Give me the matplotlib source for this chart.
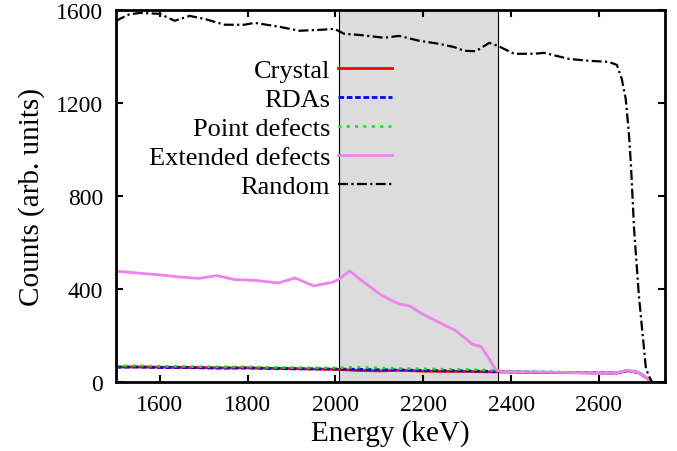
import matplotlib
matplotlib.use("Agg")
import matplotlib.pyplot as plt

plt.rcParams['font.family'] = ['Liberation Serif', 'DejaVu Serif']

# energies (keV) for the low-yield aligned spectra
e_low = [1500, 1550, 1600, 1650, 1700, 1750, 1800, 1850, 1900, 1950, 2000, 2050,
         2100, 2150, 2200, 2250, 2300, 2350, 2370, 2400, 2450, 2500, 2550, 2600,
         2640, 2665, 2690, 2710, 2722]
crystal = [64, 64, 63, 62, 61, 60, 60, 58, 57, 55, 54, 49, 47, 50, 46, 45, 45, 43,
           43, 42, 41, 40, 39, 38, 38, 48, 40, 15, 0]
rdas = [63, 64, 62, 62, 60, 59, 60, 58, 56, 56, 55, 54, 52, 51, 49, 48, 47, 45,
        44, 43, 42, 41, 40, 39, 38, 48, 40, 15, 0]
point_def = [68, 69, 67, 66, 65, 64, 64, 62, 61, 60, 60, 63, 60, 57, 56, 54, 53, 50,
             48, 45, 43, 42, 41, 40, 39, 49, 40, 15, 0]

e_ext = [1500, 1550, 1600, 1650, 1690, 1730, 1770, 1820, 1870, 1908, 1950, 1993,
         2009, 2032, 2070, 2107, 2145, 2168, 2198, 2243, 2275, 2311, 2332, 2350,
         2366, 2380, 2450, 2500, 2600, 2640, 2665, 2690, 2710, 2722]
ext_def = [476, 468, 460, 450, 445, 457, 440, 436, 425, 447, 413, 428, 443, 477,
           421, 370, 335, 327, 292, 249, 219, 163, 151, 99, 50, 43, 42, 41, 38, 38,
           50, 40, 15, 0]

e_rand = [1500, 1509, 1530, 1555, 1600, 1634, 1668, 1702, 1748, 1793, 1816, 1873,
          1918, 1964, 1998, 2020, 2055, 2111, 2145, 2191, 2236, 2270, 2293, 2320,
          2350, 2370, 2407, 2452, 2475, 2532, 2577, 2623, 2641, 2652, 2661, 2668,
          2673, 2680, 2691, 2707, 2720]
random_ = [1550, 1561, 1580, 1587, 1583, 1553, 1574, 1561, 1536, 1536, 1544, 1527,
           1510, 1514, 1518, 1497, 1492, 1480, 1488, 1467, 1454, 1440, 1424, 1422,
           1458, 1445, 1411, 1411, 1415, 1389, 1381, 1376, 1363, 1303, 1217, 1075,
           929, 658, 370, 56, 0]

shade = (2009, 2370)

fig = plt.figure(figsize=(6.77, 4.52), dpi=100)
ax = fig.add_axes([0.171, 0.153, 0.811, 0.823])

ax.axvspan(shade[0], shade[1], facecolor='#dcdcdc', edgecolor='black', lw=0.8, zorder=0)

ax.plot(e_low, crystal, color='red', lw=2, label='Crystal')
ax.plot(e_low, rdas, color='blue', lw=2, ls=(0, (2, 1)), label='RDAs')
ax.plot(e_low, point_def, color='#00ee00', lw=2, ls=(0, (1, 2)), label='Point defects')
ax.plot(e_ext, ext_def, color='violet', lw=2, label='Extended defects')
ax.plot(e_rand, random_, color='black', lw=1.6, ls=(0, (4.5, 1.5, 1, 1.5)), label='Random')

ax.set_xlim(1500, 2750)
ax.set_ylim(0, 1600)
ax.set_xticks([1600, 1800, 2000, 2200, 2400, 2600])
ax.set_yticks([0, 400, 800, 1200, 1600])
ax.tick_params(direction='in', length=5, width=1.5, top=True, right=True,
               labelsize=17)
ax.tick_params(axis='x', pad=9)
ax.tick_params(axis='y', pad=9)
for s in ax.spines.values():
    s.set_linewidth(2)

ax.set_xlabel('Energy (keV)', fontsize=21, labelpad=3)
ax.set_ylabel('Counts (arb. units)', fontsize=21, labelpad=8)

ax.legend(loc='upper left', bbox_to_anchor=(0.06, 0.868), frameon=False,
          markerfirst=False, fontsize=19, handlelength=2.05, handletextpad=0.3,
          labelspacing=0.21, borderaxespad=0, borderpad=0)

fig.savefig('out.png', dpi=100)
